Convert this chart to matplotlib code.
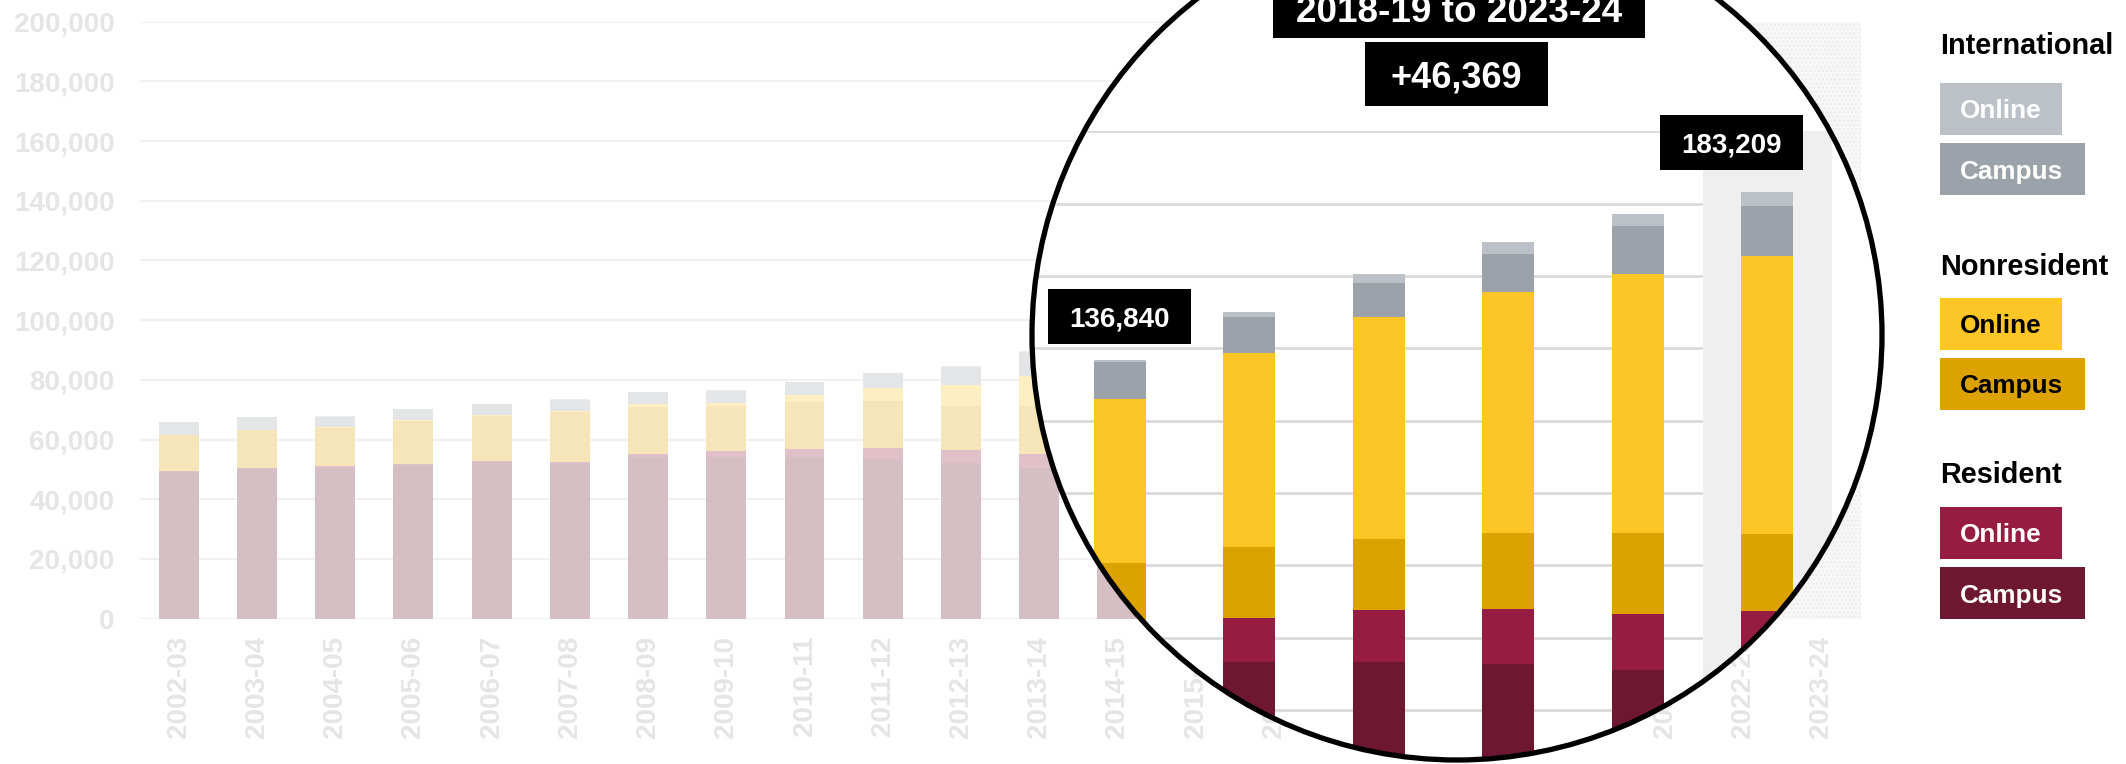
import numpy as np
import matplotlib
matplotlib.use("Agg")
import matplotlib.pyplot as plt
from matplotlib.patches import Circle, Rectangle
from matplotlib.colors import to_rgb
from matplotlib.ticker import FuncFormatter

plt.rcParams['font.family'] = ['Liberation Sans', 'DejaVu Sans']
plt.rcParams['font.weight'] = 'bold'

# enrollment by academic year, split by residency and modality
years = ['2002-03', '2003-04', '2004-05', '2005-06', '2006-07', '2007-08', '2008-09',
         '2009-10', '2010-11', '2011-12', '2012-13', '2013-14', '2014-15', '2015-16',
         '2016-17', '2017-18', '2018-19', '2019-20', '2020-21', '2021-22', '2022-23',
         '2023-24']
res_campus = [49100, 50100, 50600, 51600, 52400, 52300, 54200, 54200, 54200, 53500, 52000,
              50400, 50800, 51500, 52300, 52900, 53000, 53400, 53400, 52800, 51100, 51000]
res_online = [200, 200, 400, 300, 300, 300, 1000, 1900, 2600, 3600, 4400,
              4900, 6000, 7300, 8800, 10200, 10900, 12200, 14300, 15100, 15400, 16400]
nonres_campus = [12200, 12800, 13000, 14300, 15200, 16500, 15800, 15200, 15700, 15800, 15000,
                 16000, 16800, 17500, 18300, 18800, 16900, 19600, 19700, 21200, 22400, 21200]
nonres_online = [100, 200, 200, 200, 200, 300, 800, 1000, 2300, 4200, 6800,
                 10100, 14500, 21000, 28500, 36000, 45200, 53500, 61400, 66600, 71700, 77000]
intl_campus = [4300, 4200, 3500, 3700, 3800, 4000, 4000, 4100, 4400, 5100, 6200,
               7800, 9000, 9800, 10300, 10500, 10200, 10100, 9200, 10500, 13300, 13900]
intl_online = [100, 100, 100, 100, 100, 100, 100, 100, 100, 100, 100,
               400, 400, 500, 600, 700, 640, 1200, 2500, 3200, 3300, 3709]

zoom_from, zoom_to = '2018-19', '2023-24'

layers = [res_campus, res_online, nonres_campus, nonres_online, intl_campus, intl_online]
colors = ['#6e1731', '#961d41', '#dca300', '#fdc627', '#9ba2aa', '#bcc1c7']

W, H = 2126, 764
fig = plt.figure(figsize=(W / 100, H / 100), dpi=100)


def frac(left, top, right, bottom):
    # pixel box (measured from the top-left corner) -> figure fraction rect
    return [left / W, 1 - bottom / H, (right - left) / W, (bottom - top) / H]


def faded(c, a=0.28):
    rgb = np.array(to_rgb(c))
    return tuple(1 - (1 - rgb) * a)


def fig_box(cx, cy, w, h, text, size, fc='black', tc='white'):
    fig.add_artist(Rectangle(((cx - w / 2) / 100, (H - cy - h / 2) / 100), w / 100, h / 100,
                             transform=fig.dpi_scale_trans, facecolor=fc,
                             edgecolor='none', zorder=5))
    fig.text(cx / W, 1 - cy / H, text, ha='center', va='center_baseline',
             color=tc, fontsize=size, fontweight='bold', zorder=6)


x = np.arange(len(years))
ticks = np.arange(0, 200001, 20000)
comma = FuncFormatter(lambda v, p: f"{int(v):,}")

# ---- full history, washed out -------------------------------------------
ax = fig.add_axes(frac(139.6, 21.7, 1860.6, 618.6))
ax.set_xlim(-0.5, 21.5)
ax.set_ylim(0, 200000)
# latest-year column is screened off with a light hatch
ax.axvspan(20.0, 21.5, facecolor='#f7f7f7', edgecolor='#ebebeb', hatch='....',
           lw=0, zorder=1.5)
bottom = np.zeros(len(years))
for vals, c in zip(layers, colors):
    ax.bar(x, vals, 0.51, bottom=bottom, color=faded(c), zorder=1)
    bottom += np.array(vals)
totals = bottom.astype(int)

ax.set_yticks(ticks)
ax.yaxis.set_major_formatter(comma)
ax.set_xticks(x, years)
ax.tick_params(axis='y', length=0, colors='#e5e5e5', labelsize=20, pad=18)
ax.tick_params(axis='x', length=0, colors='#e5e5e5', labelsize=20, pad=12.5,
               labelrotation=90)
ax.grid(axis='y', color='#f1f1f1', lw=1.5)
ax.set_axisbelow(True)
for s in ax.spines.values():
    s.set_visible(False)

# magnifier lens
lens_x, lens_y, lens_r = 1457, 335, 425
lens_c = (lens_x / 100, (H - lens_y) / 100)
ax.add_patch(Circle(lens_c, lens_r / 100, transform=fig.dpi_scale_trans,
                    facecolor='white', edgecolor='none', zorder=2, clip_on=False))
clip = Circle(lens_c, (lens_r - 2) / 100, transform=fig.dpi_scale_trans)

# ---- magnified recent years ---------------------------------------------
axz = fig.add_axes(frac(925.55, 131.4, 1832.05, 854.8), zorder=1)
axz.set_xlim(14.5, 21.5)
axz.set_ylim(0, 200000)
axz.axis('off')

for t in ticks:
    axz.axhline(t, color='#dadada', lw=2, zorder=0.5).set_clip_path(clip)
i0, i1 = years.index(zoom_from), years.index(zoom_to)
axz.axvspan(i1 - 0.5, i1 + 0.5, color='#efefef', lw=0, zorder=0.6).set_clip_path(clip)

bottom = np.zeros(len(years))
for vals, c in zip(layers, colors):
    bars = axz.bar(x, vals, 0.4, bottom=bottom, color=c, zorder=1)
    for b in bars:
        b.set_clip_path(clip)
    bottom += np.array(vals)

axz.add_patch(Circle(lens_c, lens_r / 100, transform=fig.dpi_scale_trans, fill=False,
                     edgecolor='black', lw=3.8, zorder=10, clip_on=False))

# value callouts above first and last zoomed bars
bx0, by0 = axz.transData.transform((i0, totals[i0]))
bx1, by1 = axz.transData.transform((i1, totals[i1]))
fig_box(bx0, H - by0 - 43.7, 143, 55, f"{totals[i0]:,}", 20)
fig_box(bx1 - 36, H - by1 - 49.8, 143, 55, f"{totals[i1]:,}", 20)

fig_box(lens_x + 2, 8.5, 372, 58, f"{zoom_from} to {zoom_to}", 26.6)
fig_box(lens_x - 1, 73.7, 183, 64, f"+{totals[i1] - totals[i0]:,}", 26)

# ---- legend -------------------------------------------------------------
groups = [('International', colors[5], colors[4], 'white'),
          ('Nonresident', colors[3], colors[2], 'black'),
          ('Resident', colors[1], colors[0], 'white')]
header_y = [43, 264, 472]
online_top = [83, 298, 507]
campus_top = [143, 358, 567]
lx = 1940
for (name, c_on, c_cam, tc), hy, ot, ct in zip(groups, header_y, online_top, campus_top):
    fig.text(lx / W, 1 - hy / H, name, ha='left', va='center_baseline',
             fontsize=20.8, fontweight='bold', color='black')
    for label, c, top, w in [('Online', c_on, ot, 122), ('Campus', c_cam, ct, 145)]:
        fig.add_artist(Rectangle((lx / 100, (H - top - 52) / 100), w / 100, 52 / 100,
                                 transform=fig.dpi_scale_trans, facecolor=c,
                                 edgecolor='none'))
        fig.text((lx + 20) / W, 1 - (top + 26) / H, label, ha='left',
                 va='center_baseline', fontsize=18.8, fontweight='bold', color=tc)

fig.savefig('out.png', dpi=100)
